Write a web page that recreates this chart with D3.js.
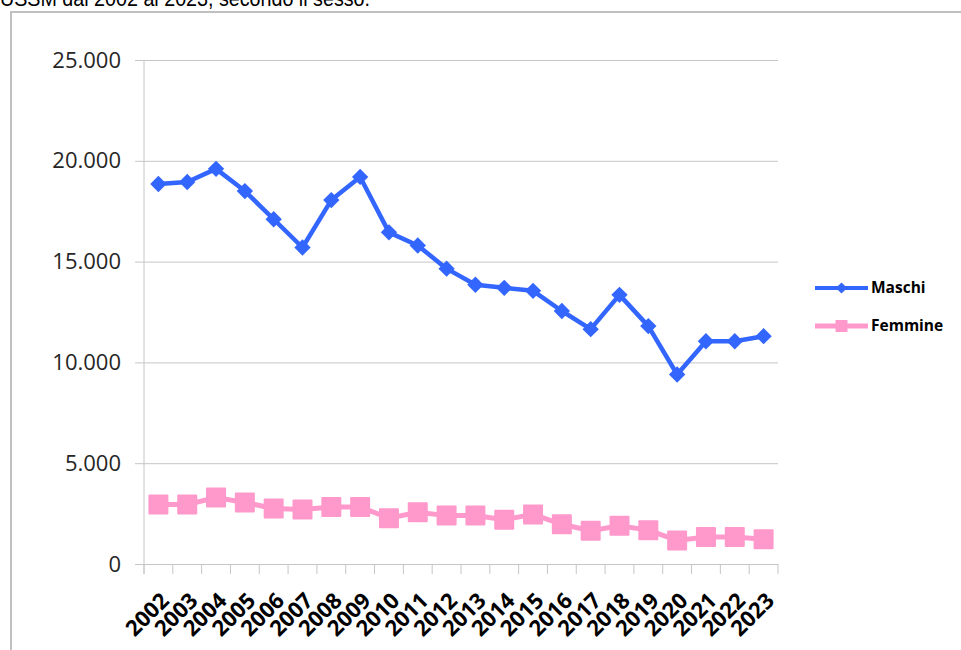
<!DOCTYPE html>
<html>
<head>
<meta charset="utf-8">
<script src="https://cdn.jsdelivr.net/npm/d3@7"></script>
<style>
  body { margin: 0; background: #fff; }
  svg { display: block; }
</style>
</head>
<body>
<div class="chart"></div>
<script>
// data
const years = ["2002","2003","2004","2005","2006","2007","2008","2009","2010","2011","2012",
    "2013","2014","2015","2016","2017","2018","2019","2020","2021","2022","2023"];
const maschi = [18850,18950,19600,18500,17100,15700,18050,19200,16450,15800,14650,
    13850,13700,13550,12550,11650,13350,11800,9400,11050,11050,11300];
const femmine = [2950,2950,3300,3050,2750,2700,2830,2830,2270,2570,2400,
    2400,2200,2460,1970,1650,1900,1680,1170,1340,1340,1230];
const yTicks = [0,5000,10000,15000,20000,25000];
const seriesNames = ["Maschi","Femmine"];

const width = 961, height = 650;
const margin = {top: 60, right: 183, bottom: 86, left: 144};

const svg = d3.select(".chart")
    .append("svg")
    .attr("width", width)
    .attr("height", height)
    .attr("viewBox", [0,0,width,height]);

// title, cut off at the top of the page like in the original screenshot
svg.append("text")
    .attr("x", 0)
    .attr("y", 6)
    .attr("font-family", "Liberation Sans, Arial, sans-serif")
    .attr("font-size", 22)
    .attr("textLength", 370)
    .attr("lengthAdjust", "spacingAndGlyphs")
    .attr("fill", "#000")
    .text("USSM dal 2002 al 2023, secondo il sesso.");

// frame of the chart box
svg.append("path")
    .attr("d", `M11,${height} V12 H${width}`)
    .attr("fill", "none")
    .attr("stroke", "#c0c0c0")
    .attr("stroke-width", 2);

const it = d3.formatLocale({decimal: ",", thousands: ".", grouping: [3], currency: ["€",""]});
const fmt = it.format(",d");

const xScale = d3.scaleBand()
    .domain(years)
    .range([margin.left, width - margin.right])
    .padding(0);
const yScale = d3.scaleLinear()
    .domain([0, 25000])
    .range([height - margin.bottom, margin.top]);

const grid = "#c6c6c6";

// y axis with gridlines
const yAxis = g => g
    .attr("transform", `translate(${margin.left},0)`)
    .call(d3.axisLeft(yScale).tickValues(yTicks).tickFormat(fmt).tickSize(9).tickPadding(14))
    .call(g => g.select(".domain").remove())
    .call(g => g.selectAll(".tick line").attr("stroke", grid))
    .call(g => g.selectAll(".tick line").clone()
        .attr("x1", 0)
        .attr("x2", width - margin.right - margin.left))
    .call(g => g.selectAll(".tick text")
        .attr("font-family", "Open Sans, sans-serif")
        .attr("font-size", 22)
        .attr("fill", "#262626"));
svg.append("g").call(yAxis);

// axis lines
svg.append("line")
    .attr("x1", margin.left).attr("x2", margin.left)
    .attr("y1", yScale(25000)).attr("y2", yScale(0) + 10)
    .attr("stroke", grid);

// x axis: ticks on category boundaries, labels rotated
const y0 = yScale(0);
const bounds = years.map(d => xScale(d)).concat([xScale.range()[1]]);
svg.append("g")
    .selectAll("line")
    .data(bounds)
    .join("line")
    .attr("x1", d => d).attr("x2", d => d)
    .attr("y1", y0).attr("y2", y0 + 10)
    .attr("stroke", grid);

svg.append("g")
    .attr("transform", `translate(0,${y0})`)
    .call(d3.axisBottom(xScale).tickSize(0).tickPadding(0))
    .call(g => g.select(".domain").remove())
    .call(g => g.selectAll(".tick text")
        .attr("font-family", "Open Sans, sans-serif")
        .attr("font-weight", "bold")
        .attr("font-size", 22)
        .attr("fill", "#000")
        .attr("text-anchor", "end")
        .attr("dy", 0)
        .attr("transform", "translate(12,38) rotate(-45)"));

// lines and markers
const colors = {Maschi: "#3366ff", Femmine: "#ff99cc"};
const line = d3.line()
    .x((d, i) => xScale(years[i]) + xScale.bandwidth() / 2)
    .y(d => yScale(d));

svg.append("path")
    .datum(femmine)
    .attr("fill", "none")
    .attr("stroke", colors.Femmine)
    .attr("stroke-width", 5)
    .attr("d", line);
svg.append("g")
    .attr("fill", colors.Femmine)
  .selectAll("rect")
  .data(femmine)
  .join("rect")
    .attr("x", (d, i) => xScale(years[i]) + xScale.bandwidth() / 2 - 10)
    .attr("y", d => yScale(d) - 10)
    .attr("width", 20)
    .attr("height", 20)
    .attr("rx", 1);

svg.append("path")
    .datum(maschi)
    .attr("fill", "none")
    .attr("stroke", colors.Maschi)
    .attr("stroke-width", 4.5)
    .attr("stroke-linejoin", "round")
    .attr("d", line);
const diamond = d3.symbol().type(d3.symbolDiamond2).size(170);
svg.append("g")
    .attr("fill", colors.Maschi)
  .selectAll("path")
  .data(maschi)
  .join("path")
    .attr("transform", (d, i) => `translate(${xScale(years[i]) + xScale.bandwidth() / 2},${yScale(d)})`)
    .attr("d", diamond);

// legend
const legend = svg.append("g")
    .selectAll("g")
    .data(seriesNames)
    .join("g")
    .attr("transform", (d, i) => `translate(815,${288 + i * 38})`);
legend.append("line")
    .attr("x1", 0).attr("x2", 53)
    .attr("stroke", d => colors[d])
    .attr("stroke-width", d => d === "Maschi" ? 4 : 5);
legend.append("path")
    .attr("transform", "translate(26.5,0)")
    .attr("fill", d => colors[d])
    .attr("d", d => d === "Maschi"
        ? d3.symbol().type(d3.symbolDiamond2).size(80)()
        : "M-6,-6H6V6H-6Z");
legend.append("text")
    .attr("x", 56)
    .attr("y", 5)
    .attr("font-family", "Open Sans, sans-serif")
    .attr("font-weight", "bold")
    .attr("font-size", 15.5)
    .attr("fill", "#000")
    .text(d => d);
</script>
</body>
</html>
